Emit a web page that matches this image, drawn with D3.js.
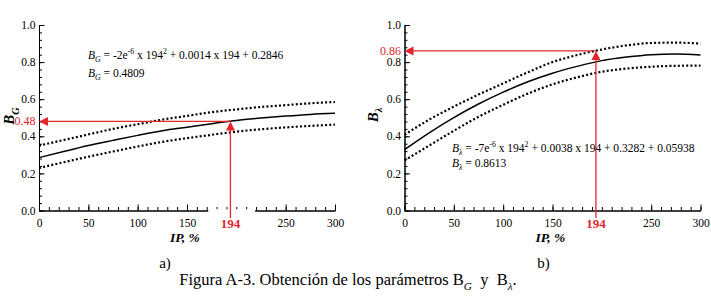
<!DOCTYPE html>
<html>
<head>
<meta charset="utf-8">
<script src="https://cdn.jsdelivr.net/npm/d3@7"></script>
<style>
  body { margin: 0; background: #fff; }
  svg { display: block; font-family: "Liberation Serif", "Times New Roman", serif; }
  .axis path, .axis line { stroke: #000; stroke-width: 1; }
  .axis text { font-family: "Liberation Serif", serif; font-size: 11.5px; fill: #000; }
</style>
</head>
<body>
<script>
// values
const ip = [0, 25, 50, 75, 100, 125, 150, 175, 200, 225, 250, 275, 300];

const bgFit   = [0.285, 0.318, 0.350, 0.378, 0.405, 0.430, 0.449, 0.468, 0.485, 0.498, 0.509, 0.518, 0.524];
const bgUpper = [0.350, 0.380, 0.410, 0.440, 0.465, 0.490, 0.510, 0.530, 0.545, 0.558, 0.568, 0.578, 0.585];
const bgLower = [0.229, 0.260, 0.290, 0.318, 0.345, 0.370, 0.390, 0.408, 0.425, 0.438, 0.448, 0.456, 0.463];

const blFit   = [0.328, 0.419, 0.501, 0.574, 0.638, 0.694, 0.740, 0.777, 0.808, 0.827, 0.840, 0.844, 0.838];
const blUpper = [0.408, 0.490, 0.560, 0.625, 0.685, 0.745, 0.800, 0.838, 0.868, 0.890, 0.903, 0.905, 0.900];
const blLower = [0.270, 0.350, 0.430, 0.505, 0.570, 0.630, 0.680, 0.718, 0.748, 0.765, 0.775, 0.780, 0.781];

const ipRead = 194;
const bgRead = 0.48;
const blRead = 0.86;

const xMajor = [0, 50, 100, 150, 250, 300];
const xMinor = d3.range(0, 301, 10);
const yMajor = [0, 0.2, 0.4, 0.6, 0.8, 1.0];
const yMinor = d3.range(0, 26).map(i => i * 0.04);

const width = 711, height = 304;
const red = "#e3262b";

const svg = d3.select("body").append("svg")
    .attr("width", width)
    .attr("height", height);

function richText(g, x, y, parts, size) {
    const t = g.append("text")
        .attr("x", x).attr("y", y)
        .style("font-size", size + "px");
    let shift = 0;
    parts.forEach(p => {
        const s = t.append("tspan").text(p.t);
        let target = 0;
        if (p.k === "sub") target = size * 0.3;
        if (p.k === "sup") target = -size * 0.38;
        s.attr("dy", target - shift);
        shift = target;
        if (p.k === "sub" || p.k === "sup") s.style("font-size", (size * 0.68) + "px");
        if (p.k === "i" || p.k === "sub") s.style("font-style", "italic");
    });
    return t;
}

function drawPanel(cfg) {
    const x = d3.scaleLinear().domain([0, 300]).range([cfg.left, cfg.left + 296]);
    const y = d3.scaleLinear().domain([0, 1]).range([210.5, 25]);
    const g = svg.append("g");

    // minor ticks
    g.append("g").attr("class", "axis")
        .attr("transform", "translate(0,210.5)")
        .call(d3.axisBottom(x).tickValues(xMinor).tickSizeInner(-3.5).tickSizeOuter(0).tickFormat(""));
    g.append("g").attr("class", "axis")
        .attr("transform", "translate(" + cfg.left + ",0)")
        .call(d3.axisLeft(y).tickValues(yMinor).tickSizeInner(-3).tickSizeOuter(0).tickFormat(""));

    // major ticks
    g.append("g").attr("class", "axis")
        .attr("transform", "translate(0,210.5)")
        .call(d3.axisBottom(x).tickValues(xMajor).tickSizeInner(-6).tickSizeOuter(0).tickPadding(8)
            .tickFormat(d3.format("d")));
    g.append("g").attr("class", "axis")
        .attr("transform", "translate(" + cfg.left + ",0)")
        .call(d3.axisLeft(y).tickValues(yMajor).tickSizeInner(-5.5).tickSizeOuter(0).tickPadding(3.5)
            .tickFormat(d3.format(".1f")));

    if (cfg.gap) {
        g.append("rect")
            .attr("x", x(170) + 1.5).attr("y", 209.2)
            .attr("width", x(219) - x(170) - 1.5).attr("height", 22)
            .attr("fill", "#fff");
    }

    // curves
    const line = d3.line().x((d, i) => x(ip[i])).y(d => y(d)).curve(d3.curveMonotoneX);
    [cfg.upper, cfg.lower].forEach(s => {
        g.append("path").attr("d", line(s))
            .attr("fill", "none").attr("stroke", "#000")
            .attr("stroke-width", 2.2).attr("stroke-dasharray", "2,2.2");
    });
    g.append("path").attr("d", line(cfg.fit))
        .attr("fill", "none").attr("stroke", "#000").attr("stroke-width", 1.5);

    // red read-off arrows
    const rx = x(ipRead), ry = y(cfg.read);
    g.append("line")
        .attr("x1", rx).attr("x2", rx).attr("y1", 218).attr("y2", ry + 6)
        .attr("stroke", red).attr("stroke-width", 1.3);
    g.append("line")
        .attr("x1", rx).attr("x2", cfg.left + 6).attr("y1", ry).attr("y2", ry)
        .attr("stroke", red).attr("stroke-width", 1.3);
    g.append("path")
        .attr("d", "M" + rx + "," + ry + "L" + (rx - 4.5) + "," + (ry + 9) + "L" + (rx + 4.5) + "," + (ry + 9) + "Z")
        .attr("fill", red);
    g.append("path")
        .attr("d", "M" + cfg.left + "," + ry + "L" + (cfg.left + 9) + "," + (ry - 4.5) + "L" + (cfg.left + 9) + "," + (ry + 4.5) + "Z")
        .attr("fill", red);

    g.append("text")
        .attr("x", cfg.left - 3.5).attr("y", ry).attr("dy", "0.32em")
        .attr("text-anchor", "end")
        .style("font-size", "12px").attr("fill", red)
        .text(d3.format(".2f")(cfg.read));
    g.append("text")
        .attr("x", rx).attr("y", 227.5)
        .attr("text-anchor", "middle")
        .style("font-size", "13px").style("font-weight", "bold").attr("fill", red)
        .text(ipRead);

    // axis titles
    const yl = richText(g, 0, 0, [{t: "B", k: "i"}, {t: cfg.sym, k: "sub"}], 15)
        .style("font-weight", "bold")
        .attr("transform", "translate(" + cfg.ylx + "," + cfg.yly + ") rotate(-90)");
    yl.attr("text-anchor", "middle");

    g.append("text")
        .attr("x", cfg.left + 146).attr("y", 242)
        .attr("text-anchor", "middle")
        .style("font-size", "13.5px").style("font-weight", "bold").style("font-style", "italic")
        .text("IP, %");

    g.append("text")
        .attr("x", cfg.left + cfg.tagDx).attr("y", 268)
        .attr("text-anchor", "middle")
        .style("font-size", "15px")
        .text(cfg.tag);

    // equation
    richText(g, cfg.eqX, cfg.eqY, cfg.eq, 11.5);
    richText(g, cfg.eqX, cfg.eqY + cfg.eqGap,
        [{t: "B", k: "i"}, {t: cfg.sym, k: "sub"}, {t: " = " + cfg.eqValue}], 11.5);
}

drawPanel({
    left: 39, fit: bgFit, upper: bgUpper, lower: bgLower, read: bgRead,
    sym: "G", ylx: 14, yly: 116, tag: "a)", tagDx: 126, gap: true,
    eqX: 88, eqY: 58.5, eqGap: 18, eqValue: "0.4809",
    eq: [{t: "B", k: "i"}, {t: "G", k: "sub"}, {t: " = -2e"}, {t: "-6", k: "sup"}, {t: " x 194"},
         {t: "2", k: "sup"}, {t: " + 0.0014 x 194 + 0.2846"}]
});

drawPanel({
    left: 404.5, fit: blFit, upper: blUpper, lower: blLower, read: blRead,
    sym: "λ", ylx: 377.5, yly: 115, tag: "b)", tagDx: 139, gap: false,
    eqX: 452, eqY: 151.5, eqGap: 15.5, eqValue: "0.8613",
    eq: [{t: "B", k: "i"}, {t: "λ", k: "sub"}, {t: " = -7e"}, {t: "-6", k: "sup"}, {t: " x 194"},
         {t: "2", k: "sup"}, {t: " + 0.0038 x 194 + 0.3282 + 0.05938"}]
});

// caption
richText(svg, 348, 285, [
    {t: "Figura A-3. Obtención de los parámetros B"}, {t: "G", k: "sub"},
    {t: "  y  B"}, {t: "λ", k: "sub"}, {t: "."}
], 16.5).attr("text-anchor", "middle").style("white-space", "pre");
</script>
</body>
</html>
